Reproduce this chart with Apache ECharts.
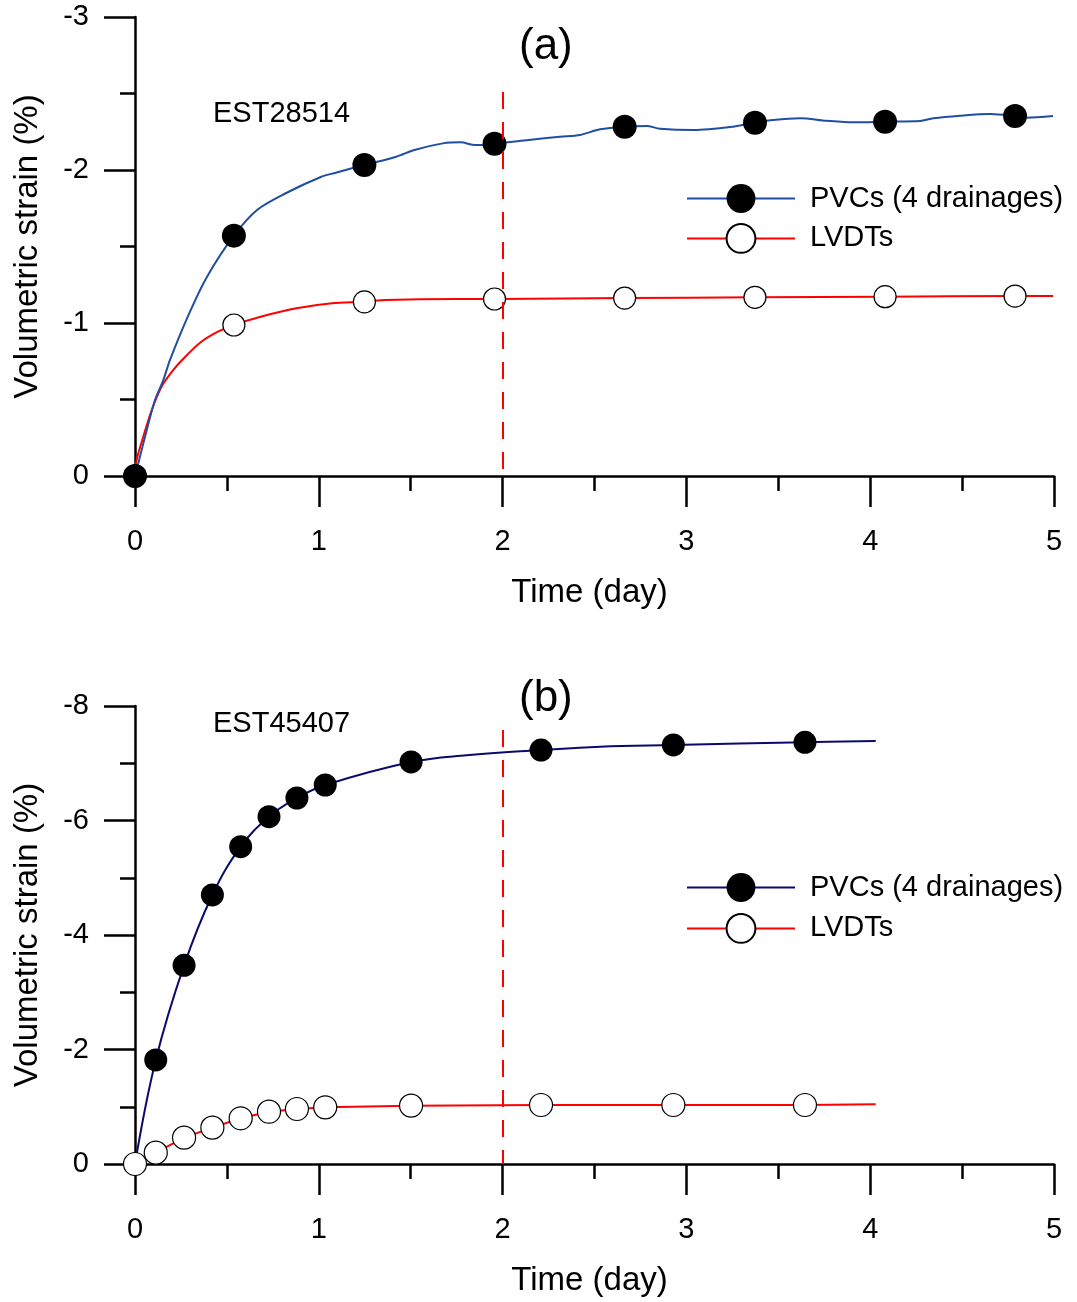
<!DOCTYPE html>
<html>
<head>
<meta charset="utf-8">
<script src="https://cdn.jsdelivr.net/npm/echarts@6/dist/echarts.min.js"></script>
<style>
html,body{margin:0;padding:0;background:#fff;}
#chart{width:1077px;height:1302px;}
</style>
</head>
<body>
<div id="chart"></div>
<script>
// ---------- Panel (a) EST28514 ----------
const aPvcMarkT = [0, 0.538, 1.248, 1.956, 2.664, 3.373, 4.081, 4.788];
const aPvcMarkV = [0, -1.571, -2.033, -2.172, -2.283, -2.309, -2.316, -2.353];
const aPvcCurveT = [0.018, 0.064, 0.109, 0.154, 0.190, 0.295, 0.392, 0.664, 0.820, 1.014, 1.092, 1.422, 1.520, 1.675, 1.772, 1.850, 2.141, 2.312, 2.421, 2.530, 2.784, 2.856, 3.038, 3.255, 3.473, 3.618, 3.763, 3.909, 4.271, 4.343, 4.489, 4.652, 4.851, 4.995];
const aPvcCurveV = [-0.083, -0.301, -0.497, -0.627, -0.758, -1.063, -1.303, -1.739, -1.848, -1.956, -1.982, -2.087, -2.131, -2.174, -2.181, -2.163, -2.196, -2.218, -2.229, -2.266, -2.288, -2.270, -2.261, -2.283, -2.327, -2.338, -2.322, -2.312, -2.320, -2.338, -2.355, -2.366, -2.342, -2.353];

const aLvdtMarkT = [0, 0.538, 1.248, 1.956, 2.664, 3.373, 4.081, 4.788];
const aLvdtMarkV = [0, -0.987, -1.138, -1.157, -1.163, -1.168, -1.172, -1.176];
const aLvdtCurveT = [0.009, 0.045, 0.091, 0.145, 0.200, 0.256, 0.354, 0.451, 0.684, 0.878, 1.072, 1.364, 1.752, 2.336, 4.995];
const aLvdtCurveV = [-0.105, -0.257, -0.431, -0.584, -0.680, -0.758, -0.871, -0.943, -1.041, -1.096, -1.129, -1.150, -1.157, -1.160, -1.176];

// ---------- Panel (b) EST45407 ----------
const bPvcMarkT = [0.113, 0.267, 0.421, 0.575, 0.729, 0.881, 1.035, 1.502, 2.209, 2.929, 3.645];
const bPvcMarkV = [-1.817, -3.470, -4.699, -5.543, -6.067, -6.393, -6.620, -7.022, -7.231, -7.319, -7.366];
const bPvcCurveT = [0, 1.805, 2.530, 4.030];
const bPvcCurveV = [0, -7.140, -7.290, -7.389];

const bLvdtMarkT = [0, 0.113, 0.267, 0.421, 0.575, 0.729, 0.881, 1.035, 1.502, 2.209, 2.929, 3.645];
const bLvdtMarkV = [0, -0.198, -0.460, -0.635, -0.798, -0.914, -0.961, -0.990, -1.019, -1.031, -1.031, -1.031];
const bLvdtCurveT = [4.030];
const bLvdtCurveV = [-1.043];

// axis settings (values)
const aYRange = [-3, 0];
const bYRange = [-8, 0];
const dashX = 2;
const aDashTop = -2.51;
const bDashTop = -7.58;

const legendNames = ['PVCs (4 drainages)', 'LVDTs'];
const panelTitles = ['(a)', '(b)'];
const sampleNames = ['EST28514', 'EST45407'];
const xName = 'Time (day)';
const yName = 'Volumetric strain (%)';

const FONT = '"Liberation Sans", Arial, Helvetica, sans-serif';

function merge(markT, markV, curveT, curveV) {
  const pts = [];
  markT.forEach((t, i) => pts.push({ value: [t, markV[i]], symbol: 'circle' }));
  curveT.forEach((t, i) => pts.push({ value: [t, curveV[i]], symbol: 'none' }));
  pts.sort((p, q) => p.value[0] - q.value[0]);
  return pts;
}

const chart = echarts.init(document.getElementById('chart'), null, { renderer: 'canvas' });

function xAxis(gi) {
  return {
    type: 'value', gridIndex: gi, min: 0, max: 5, interval: 1,
    name: xName, nameLocation: 'middle', nameGap: 100,
    nameTextStyle: { fontSize: 33, color: '#000', fontFamily: FONT, padding: [0, 10, 0, 0] },
    axisLine: { onZero: false, lineStyle: { color: '#000', width: 2.5 } },
    axisTick: { show: true, length: 31, lineStyle: { color: '#000', width: 2.5 } },
    minorTick: { show: true, splitNumber: 2, length: 15, lineStyle: { color: '#000', width: 2.5 } },
    axisLabel: { fontSize: 29, color: '#000', fontFamily: FONT, margin: 51 },
    splitLine: { show: false }
  };
}
function yAxis(gi, range, interval) {
  return {
    type: 'value', gridIndex: gi, min: range[0], max: range[1], interval: interval, inverse: true,
    name: yName, nameLocation: 'middle', nameGap: 91, nameRotate: 90,
    nameTextStyle: { fontSize: 33, color: '#000', fontFamily: FONT },
    axisLine: { onZero: false, lineStyle: { color: '#000', width: 2.5 } },
    axisTick: { show: true, length: 31, lineStyle: { color: '#000', width: 2.5 } },
    minorTick: { show: true, splitNumber: 2, length: 15, lineStyle: { color: '#000', width: 2.5 } },
    axisLabel: { fontSize: 29, color: '#000', fontFamily: FONT, margin: 46 },
    splitLine: { show: false }
  };
}

function dashLine(top) {
  return {
    silent: true, symbol: 'none', label: { show: false },
    lineStyle: { color: '#ff0000', width: 2, type: [17, 13] },
    emphasis: { disabled: true },
    data: [[{ coord: [dashX, top] }, { coord: [dashX, 0] }]]
  };
}

const option = {
  animation: false,
  backgroundColor: '#fff',
  grid: [
    { left: 135, top: 17, width: 919, height: 459 },
    { left: 135, top: 706, width: 919, height: 458 }
  ],
  xAxis: [xAxis(0), xAxis(1)],
  yAxis: [yAxis(0, aYRange, 1), yAxis(1, bYRange, 2)],
  legend: [
    {
      orient: 'vertical', left: 686, top: 184, padding: 0, itemWidth: 108, itemHeight: 36, itemGap: 10,
      data: ['a:' + legendNames[0], 'a:' + legendNames[1]],
      formatter: n => n.slice(2),
      textStyle: { fontSize: 29, color: '#000', fontFamily: FONT, padding: [0, 0, 0, 10] },
      selectedMode: false
    },
    {
      orient: 'vertical', left: 686, top: 873, padding: 0, itemWidth: 108, itemHeight: 36, itemGap: 11,
      data: ['b:' + legendNames[0], 'b:' + legendNames[1]],
      formatter: n => n.slice(2),
      textStyle: { fontSize: 29, color: '#000', fontFamily: FONT, padding: [0, 0, 0, 10] },
      selectedMode: false
    }
  ],
  graphic: [
    { type: 'text', left: 519, top: 25, style: { text: panelTitles[0], font: '44px ' + FONT, fill: '#000' } },
    { type: 'text', left: 519, top: 677, style: { text: panelTitles[1], font: '44px ' + FONT, fill: '#000' } },
    { type: 'text', left: 213, top: 99, style: { text: sampleNames[0], font: '29px ' + FONT, fill: '#000' } },
    { type: 'text', left: 213, top: 709, style: { text: sampleNames[1], font: '29px ' + FONT, fill: '#000' } }
  ],
  series: [
    {
      name: 'a:' + legendNames[1], type: 'line', xAxisIndex: 0, yAxisIndex: 0,
      data: merge(aLvdtMarkT, aLvdtMarkV, aLvdtCurveT, aLvdtCurveV),
      symbol: 'circle', symbolSize: 22, showAllSymbol: true, smooth: 0.3,
      lineStyle: { color: '#ff0000', width: 2 },
      itemStyle: { color: '#ffffff', borderColor: '#000', borderWidth: 1.2 },
      z: 2,
      markLine: dashLine(aDashTop)
    },
    {
      name: 'a:' + legendNames[0], type: 'line', xAxisIndex: 0, yAxisIndex: 0,
      data: merge(aPvcMarkT, aPvcMarkV, aPvcCurveT, aPvcCurveV),
      symbol: 'circle', symbolSize: 24, showAllSymbol: true, smooth: 0.3,
      lineStyle: { color: '#1f4ea3', width: 2 },
      itemStyle: { color: '#000', borderColor: '#000', borderWidth: 0 },
      z: 3
    },
    {
      name: 'b:' + legendNames[0], type: 'line', xAxisIndex: 1, yAxisIndex: 1,
      data: merge(bPvcMarkT, bPvcMarkV, bPvcCurveT, bPvcCurveV),
      symbol: 'circle', symbolSize: 23, showAllSymbol: true, smooth: 0.4,
      lineStyle: { color: '#0a0a6e', width: 2 },
      itemStyle: { color: '#000', borderColor: '#000', borderWidth: 0 },
      z: 2,
      markLine: dashLine(bDashTop)
    },
    {
      name: 'b:' + legendNames[1], type: 'line', xAxisIndex: 1, yAxisIndex: 1,
      data: merge(bLvdtMarkT, bLvdtMarkV, bLvdtCurveT, bLvdtCurveV),
      symbol: 'circle', symbolSize: 23, showAllSymbol: true, smooth: false,
      lineStyle: { color: '#ff0000', width: 2 },
      itemStyle: { color: '#ffffff', borderColor: '#000', borderWidth: 1.2 },
      z: 3
    }
  ]
};
chart.setOption(option);
</script>
</body>
</html>
